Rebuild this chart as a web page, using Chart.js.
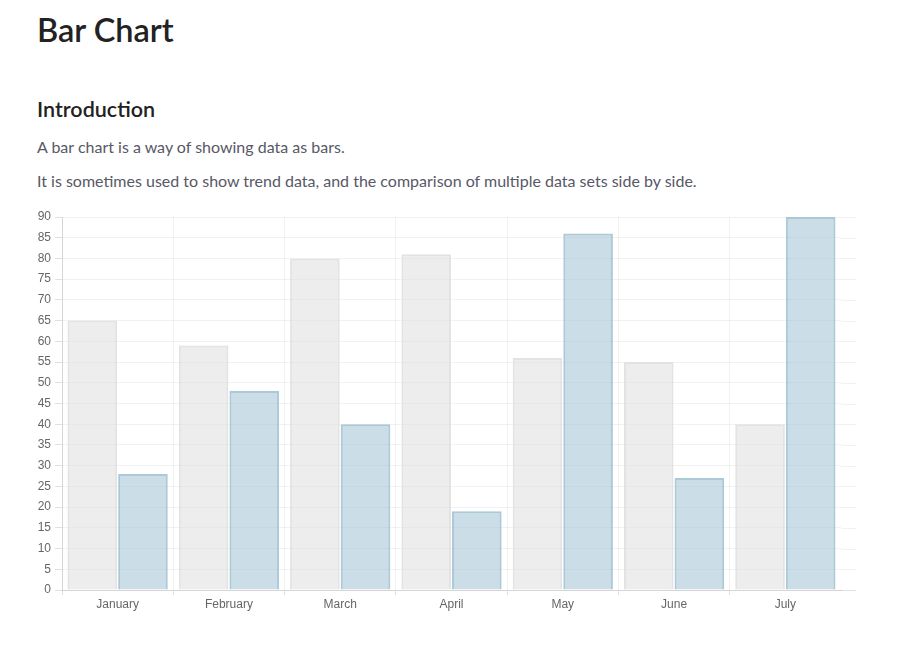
<!DOCTYPE html>
<html>
<head>
<meta charset="utf-8">
<script src="https://cdn.jsdelivr.net/npm/chart.js@4.4.1/dist/chart.umd.min.js"></script>
<style>
  html, body { margin: 0; padding: 0; background: #fff; }
  body { width: 911px; height: 654px; position: relative; overflow: hidden; font-family: "Lato", "Open Sans", sans-serif; }
  h1 { position: absolute; left: 37px; top: 10px; margin: 0; font-size: 32.5px; font-weight: 600; color: #222; }
  h2 { position: absolute; left: 37px; top: 96px; margin: 0; font-size: 21.5px; font-weight: 600; color: #222; }
  p { position: absolute; left: 37px; margin: 0; font-size: 16px; color: #585866; }
  #p1 { top: 137px; }
  #p2 { top: 171px; }
  #wrap { position: absolute; left: 30px; top: 205px; width: 830px; height: 410px; }
</style>
</head>
<body>
<h1>Bar Chart</h1>
<h2>Introduction</h2>
<p id="p1">A bar chart is a way of showing data as bars.</p>
<p id="p2">It is sometimes used to show trend data, and the comparison of multiple data sets side by side.</p>
<div id="wrap"><canvas id="kaavio"></canvas></div>
<script>
// Kuukaudet ja sarjojen arvot
const kuukaudet = ["January", "February", "March", "April", "May", "June", "July"];
const harmaaSarja = [65, 59, 80, 81, 56, 55, 40];
const sininenSarja = [28, 48, 40, 19, 86, 27, 90];
const yMax = 90;
const yAskel = 5;

const ruudukko = "rgba(0,0,0,0.05)";
const akseli = "rgba(0,0,0,0.12)";

// Jatketaan vaakaviivoja hieman piirtoalueen oikealle puolelle
const jatkoViivat = {
  id: "jatkoViivat",
  beforeDatasetsDraw(chart) {
    const c = chart.ctx;
    const alue = chart.chartArea;
    const y = chart.scales.y;
    c.save();
    c.lineWidth = 1;
    y.ticks.forEach(function (t) {
      const py = Math.round(y.getPixelForValue(t.value)) + 0.5;
      c.strokeStyle = t.value === 0 ? akseli : ruudukko;
      c.beginPath();
      c.moveTo(alue.right, py);
      c.lineTo(alue.right + 15, py);
      c.stroke();
    });
    c.restore();
  }
};

// Viimeistä pystyviivaa (ei omaa tickiä) ei piirretä
function viimeinenPois(vari) {
  return function (c) { return c.type === "tick" ? vari : "transparent"; };
}

const ctx = document.querySelector("#kaavio").getContext("2d");
new Chart(ctx, {
  type: "bar",
  data: {
    labels: kuukaudet,
    datasets: [{
      label: "Sarja 1",
      data: harmaaSarja,
      backgroundColor: "rgba(220,220,220,0.5)",
      borderColor: "rgba(220,220,220,0.8)",
      borderWidth: 2
    }, {
      label: "Sarja 2",
      data: sininenSarja,
      backgroundColor: "rgba(151,187,205,0.5)",
      borderColor: "rgba(151,187,205,0.8)",
      borderWidth: 2
    }]
  },
  options: {
    responsive: true,
    maintainAspectRatio: false,
    animation: false,
    categoryPercentage: 0.91,
    barPercentage: 0.98,
    layout: { padding: { top: 12, right: 19, left: 0, bottom: 0 } },
    plugins: { legend: { display: false }, tooltip: { enabled: false } },
    scales: {
      x: {
        afterFit: function (s) { s.height = 25; },
        grid: {
          color: viimeinenPois(ruudukko),
          tickColor: viimeinenPois(akseli),
          tickLength: 5
        },
        border: { color: akseli },
        ticks: { color: "#666", padding: 2, font: { family: "Liberation Sans", size: 12 } }
      },
      y: {
        min: 0,
        max: yMax,
        afterFit: function (s) { s.width = 32; },
        grid: { color: ruudukko, tickColor: akseli, tickLength: 7 },
        border: { color: akseli },
        ticks: { stepSize: yAskel, color: "#666", padding: 4, font: { family: "Liberation Sans", size: 12 } }
      }
    }
  },
  plugins: [jatkoViivat]
});
</script>
</body>
</html>
